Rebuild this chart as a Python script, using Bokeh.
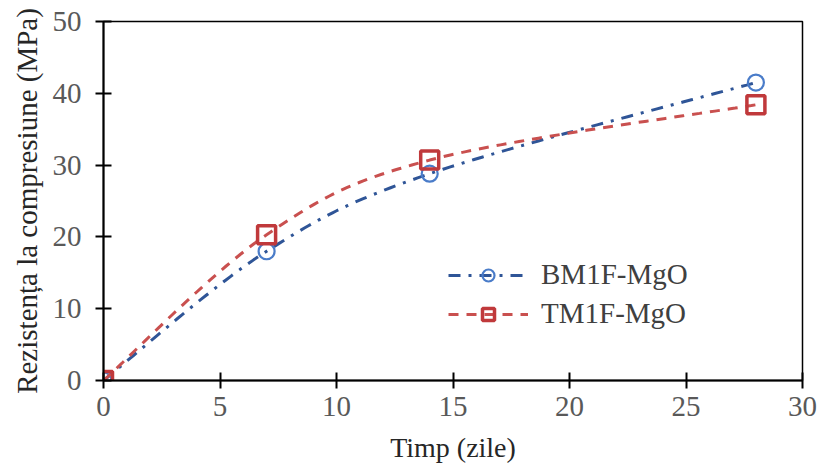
import numpy as np
from bokeh.plotting import figure
from bokeh.models import Range1d, Legend, LegendItem, FixedTicker
from bokeh.embed import file_html
from bokeh.resources import INLINE

days = [0, 7, 14, 28]
bm1f = [0, 18.0, 28.8, 41.5]
tm1f = [0, 20.3, 30.7, 38.4]
x_ticks = [0, 5, 10, 15, 20, 25, 30]
y_ticks = [0, 10, 20, 30, 40, 50]
names = ["BM1F-MgO", "TM1F-MgO"]


def smooth(xs, ys, n=40):
    # Bezier smoothing (as a spreadsheet "smoothed line") through the data points
    P = np.column_stack([xs, ys]).astype(float)
    ext = np.vstack([P[0], P, P[-1]])
    out = []
    for i in range(len(P) - 1):
        p0, p1, p2, p3 = ext[i], ext[i + 1], ext[i + 2], ext[i + 3]
        c1 = p1 + (p2 - p0) / 6.0
        c2 = p2 - (p3 - p1) / 6.0
        t = np.linspace(0, 1, n)[:, None]
        seg = ((1 - t) ** 3) * p1 + 3 * ((1 - t) ** 2) * t * c1 + 3 * (1 - t) * t ** 2 * c2 + t ** 3 * p2
        out.append(seg if i == 0 else seg[1:])
    s = np.vstack(out)
    return s[:, 0], s[:, 1]


SERIF = "Liberation Serif"

p = figure(width=820, height=466, output_backend="svg", toolbar_location=None,
           x_range=Range1d(0, 30), y_range=Range1d(0, 50),
           min_border_left=103, min_border_right=18, min_border_top=21, min_border_bottom=86)

p.xgrid.visible = False
p.ygrid.visible = False
p.outline_line_color = "black"
p.outline_line_width = 1.5

for ax in (p.xaxis[0], p.yaxis[0]):
    ax.axis_line_color = "black"
    ax.axis_line_width = 2
    ax.major_tick_line_color = "black"
    ax.major_tick_line_width = 2
    ax.major_tick_in = 8
    ax.major_tick_out = 8
    ax.minor_tick_line_color = None
    ax.major_label_text_font = SERIF
    ax.major_label_text_font_size = "29px"
    ax.major_label_text_color = "#595959"
    ax.axis_label_text_font = SERIF
    ax.axis_label_text_font_style = "normal"
    ax.axis_label_text_color = "#262626"

p.xaxis.axis_label_text_font_size = "28px"
p.yaxis.axis_label_text_font_size = "29px"
p.xaxis.ticker = FixedTicker(ticks=x_ticks)
p.yaxis.ticker = FixedTicker(ticks=y_ticks)
p.xaxis.axis_label = "Timp (zile)"
p.yaxis.axis_label = "Rezistența la compresiune (MPa)"
p.xaxis.major_label_standoff = 8
p.yaxis.major_label_standoff = 14
p.xaxis.axis_label_standoff = 13
p.yaxis.axis_label_standoff = 7

bx, by = smooth(days, bm1f)
tx, ty = smooth(days, tm1f)

l1 = p.line(bx, by, line_color="#2f5597", line_width=3, line_dash="12 8 3 8")
m1 = p.scatter(days, bm1f, marker="circle", size=16, fill_color=None,
               line_color="#4a7cc9", line_width=2.2)
l2 = p.line(tx, ty, line_color="#c9504f", line_width=3, line_dash="10 8")
m2 = p.scatter(days, tm1f, marker="square", size=18, fill_color=None,
               line_color="#c0393b", line_width=3.5)

legend = Legend(items=[LegendItem(label=names[0], renderers=[l1, m1]),
                       LegendItem(label=names[1], renderers=[l2, m2])],
                location=(345, 50))
legend.background_fill_alpha = 0
legend.border_line_color = None
legend.label_text_font = SERIF
legend.label_text_font_size = "29px"
legend.label_text_color = "#404040"
legend.glyph_width = 80
legend.glyph_height = 30
legend.label_standoff = 13
legend.spacing = 6
p.add_layout(legend, "center")

open("out.html", "w").write(file_html(p, INLINE))
